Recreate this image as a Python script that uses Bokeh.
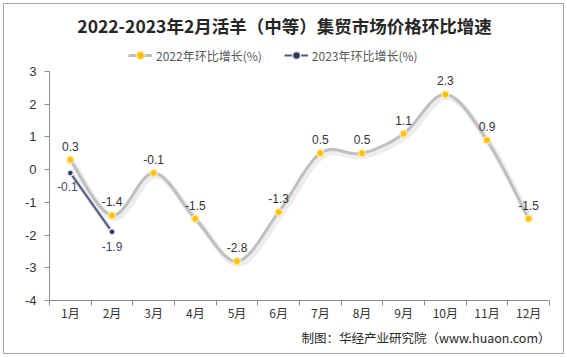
import numpy as np
from bokeh.plotting import figure
from bokeh.models import (ColumnDataSource, FixedTicker, Label, Legend, LegendItem, Range1d, Title)
from bokeh.embed import file_html
from bokeh.resources import INLINE

months = ["1月", "2月", "3月", "4月", "5月", "6月", "7月", "8月", "9月", "10月", "11月", "12月"]
v2022 = [0.3, -1.4, -0.1, -1.5, -2.8, -1.3, 0.5, 0.5, 1.1, 2.3, 0.9, -1.5]
v2023 = [-0.1, -1.9]
y_ticks = [-4, -3, -2, -1, 0, 1, 2, 3]
title_text = "2022-2023年2月活羊（中等）集贸市场价格环比增速"
name2022 = "2022年环比增长(%)"
name2023 = "2023年环比增长(%)"
source_text = "制图：华经产业研究院（www.huaon.com）"

W, H = 567, 357
FRAME_BOTTOM = 300          # canvas y of value -4
PX_PER_UNIT = 229 / 7
top_val = 3 + 71 / PX_PER_UNIT   # room above the value axis for title + legend

p = figure(width=W, height=H, output_backend="svg", toolbar_location=None,
           x_range=Range1d(0.5, 12.5), y_range=Range1d(-4, top_val),
           min_border_left=49, min_border_right=18, min_border_top=0, min_border_bottom=57)
p.title = None
p.outline_line_color = None
p.outline_line_alpha = 0
p.xgrid.grid_line_color = None
p.ygrid.grid_line_color = None
p.background_fill_color = None
p.border_fill_color = None
p.styles = {"background-color": "white",
            "box-shadow": "inset 0 0 0 3px white, inset 0 0 0 4px #a6a6a6"}

xs = list(range(1, 13))

p.xaxis.ticker = FixedTicker(ticks=xs, minor_ticks=[i + 0.5 for i in range(0, 13)])
p.xaxis.major_label_overrides = {i + 1: m for i, m in enumerate(months)}
p.xaxis.major_tick_line_color = None
p.xaxis.minor_tick_line_color = "#8c8c8c"
p.xaxis.minor_tick_out = 5
p.xaxis.minor_tick_in = 0
p.xaxis.axis_line_color = "#8c8c8c"
p.xaxis.major_label_standoff = -3
p.xaxis.major_label_text_font = "Noto Sans CJK SC"
p.xaxis.major_label_text_font_size = "12px"
p.xaxis.major_label_text_color = "#333333"

p.yaxis.ticker = FixedTicker(ticks=y_ticks, minor_ticks=[])
p.yaxis.bounds = (min(y_ticks), max(y_ticks))
p.yaxis.major_label_overrides = {t: str(t) for t in y_ticks}
p.yaxis.axis_line_color = "#8c8c8c"
p.yaxis.major_tick_line_color = "#8c8c8c"
p.yaxis.major_tick_out = 5
p.yaxis.major_tick_in = 0
p.yaxis.major_label_standoff = 8
p.yaxis.major_label_text_font = "Liberation Sans"
p.yaxis.major_label_text_font_size = "13px"
p.yaxis.major_label_text_color = "#333333"


def smooth(x, y, n=24, tension=0.5):
    # Catmull-Rom style smoothing used only for drawing the curve through the data points
    x = np.asarray(x, float)
    y = np.asarray(y, float)
    px = np.concatenate([[x[0]], x, [x[-1]]])
    py = np.concatenate([[y[0]], y, [y[-1]]])
    ox, oy = [], []
    for i in range(1, len(px) - 2):
        p0, p1, p2, p3 = (np.array([px[j], py[j]]) for j in (i - 1, i, i + 1, i + 2))
        c1 = p1 + (p2 - p0) * tension / 3
        c2 = p2 - (p3 - p1) * tension / 3
        t = np.linspace(0, 1, n, endpoint=(i == len(px) - 3))
        pts = ((1 - t) ** 3)[:, None] * p1 + (3 * (1 - t) ** 2 * t)[:, None] * c1 + \
              (3 * (1 - t) * t ** 2)[:, None] * c2 + (t ** 3)[:, None] * p2
        ox.extend(pts[:, 0]); oy.extend(pts[:, 1])
    return ox, oy

cx, cy = smooth(xs, v2022)
p.line([a + 0.05 for a in cx], [b - 0.08 for b in cy], line_color="#ebebeb", line_width=6, line_alpha=0.9)
l22 = p.line(cx, cy, line_color="#bfbfbf", line_width=3)
s22 = p.scatter(xs, v2022, size=7, fill_color="#FFC000", line_color="#fbe7a1", line_width=1.5)

x23 = xs[:len(v2023)]
p.line([a + 0.05 for a in x23], [b - 0.08 for b in v2023], line_color="#e6e8ee", line_width=5)
l23 = p.line(x23, v2023, line_color="#4f5b7d", line_width=2)
s23 = p.scatter(x23, v2023, size=6, fill_color="#2f3b58", line_color="#e8eaf0", line_width=1.5)

src22 = ColumnDataSource(dict(x=xs, y=v2022, t=[f"{v:g}" for v in v2022]))
p.text(x="x", y="y", text="t", source=src22, text_align="center", text_baseline="bottom",
       y_offset=-9, text_font_size="12px", text_color="#333333",
       text_font={"value": "Liberation Sans"})
lbl23_dx = [-3, 0]
lbl23_dy = [9, 10]
src23 = ColumnDataSource(dict(x=x23, y=v2023, t=[f"{v:g}" for v in v2023], dx=lbl23_dx, dy=lbl23_dy))
p.text(x="x", y="y", text="t", source=src23, text_align="center", text_baseline="top",
       x_offset="dx", y_offset="dy", text_font_size="12px", text_color="#3f4a68",
       text_font={"value": "Liberation Sans"})

legend = Legend(items=[LegendItem(label=name2022, renderers=[l22, s22]),
                       LegendItem(label=name2023, renderers=[l23, s23])],
                orientation="horizontal", location=(79, 235),
                background_fill_alpha=0, border_line_color=None,
                label_text_font="Noto Sans CJK SC", label_text_font_size="12px",
                label_text_color="#595959", glyph_width=24, glyph_height=20, spacing=22, padding=0,
                label_standoff=4, margin=0)
p.add_layout(legend, "center")

p.add_layout(Label(x=284 - 49, y=FRAME_BOTTOM - 25, x_units="screen", y_units="screen", text=title_text,
                   text_align="center", text_baseline="middle", text_font="Noto Sans CJK SC",
                   text_font_style="bold", text_font_size="17.5px", text_color="#262626"))

p.add_layout(Title(text=source_text, align="right", text_font="Noto Sans CJK SC",
                   text_font_style="normal", text_font_size="12.5px", text_color="#262626",
                   standoff=4, offset=-1), "below")

open("out.html", "w").write(file_html(p, INLINE))
